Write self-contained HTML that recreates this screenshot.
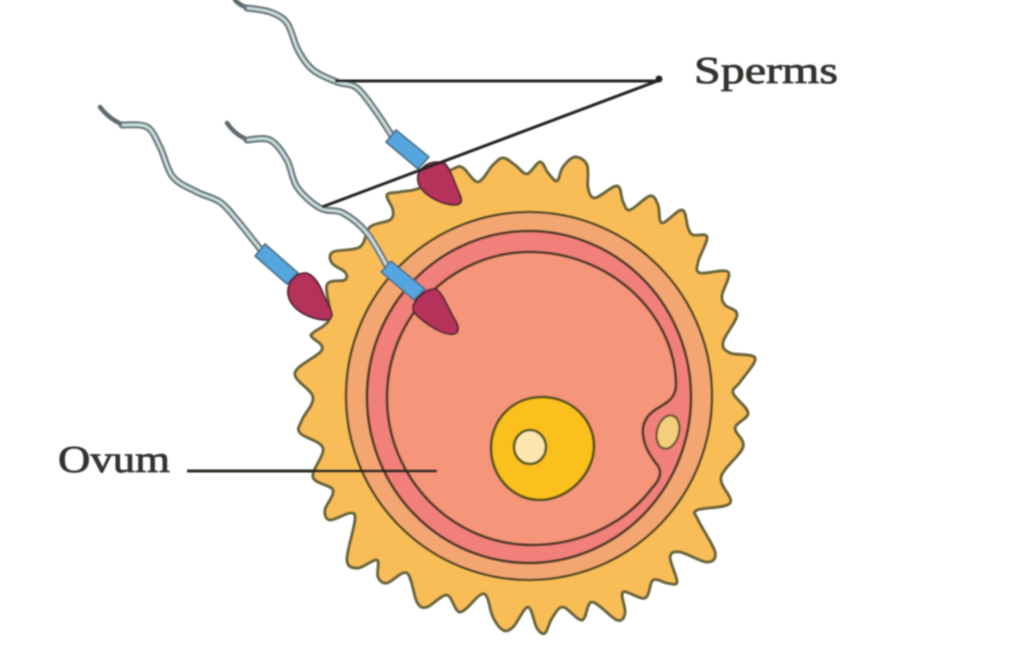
<!DOCTYPE html>
<html lang="en">
<head>
<meta charset="utf-8">
<title>Sperms and ovum diagram</title>
<style>
html,body{margin:0;padding:0;background:#fff;width:1024px;height:648px;overflow:hidden}
svg{display:block}
text{font-family:"Liberation Serif",serif;fill:#33332f;stroke:#33332f;stroke-width:.8px}
</style>
</head>
<body>
<svg width="1024" height="648" viewBox="0 0 1024 648">
<defs><filter id="soft" x="-5%" y="-5%" width="110%" height="110%"><feGaussianBlur stdDeviation="0.9"/></filter></defs>
<g filter="url(#soft)">
  <g>
    <path id="crown" fill="#f9bd58" stroke="#66633a" stroke-width="3" stroke-linejoin="round" d=""/>
    <ellipse cx="529" cy="396" rx="183" ry="184" fill="#f4a672" stroke="#4f4a24" stroke-width="2.6"/>
    <ellipse cx="529" cy="397" rx="162" ry="166" fill="#f2807a" stroke="#4f3a28" stroke-width="2.8"/>
    <path fill="#f5957a" stroke="#4f3a28" stroke-width="2.8" d="M387 398 C387 316 452 252 530 252 C610 252 675 314 676 384 C676 398 668 402 658 408 C646 415 642 424 643 434 C644 448 652 458 658 466 C662 472 660 480 652 488 C625 524 580 545 532 545 C452 545 387 478 387 398 Z"/>
    <path fill="#fbc01f" stroke="#55521c" stroke-width="2.8" d="M491 448 C491 420 512 397 542 397 C572 397 594 420 594 446 C594 474 568 500 540 500 C512 500 491 476 491 448 Z"/>
    <ellipse cx="530" cy="447" rx="16" ry="17" fill="#fde6b0" stroke="#605c28" stroke-width="2.8"/>
    <ellipse cx="668" cy="432" rx="11" ry="17" transform="rotate(15 668 432)" fill="#f3cf7c" stroke="#6d5a30" stroke-width="2.4"/>
  </g>

  <g>
    <path id="tail-top-tip" fill="none" stroke="#5f6a6e" stroke-width="4.5" stroke-linecap="round" d=""/>
    <path id="tail-top" fill="none" stroke="#6a767a" stroke-width="7" stroke-linecap="round" d=""/>
    <path id="core-top" fill="none" stroke="#cbe0e0" stroke-width="2.6" d=""/>
    <path fill="#55a5de" stroke="#4a6a80" stroke-width="1.6" stroke-linejoin="round" d="M386 142 L396 130 L429 157 L418 169 Z"/>
    <path fill="#b5325a" stroke="#4a2030" stroke-width="1.8" d="M418 175 C422 165 432 160 444 163 C450 168 454 180 458 190 C462 198 464 204 456 205 C448 206 432 200 424 192 C419 187 417 182 418 175 Z"/>
  </g>

  <g>
    <path id="tail-left-tip" fill="none" stroke="#5f6a6e" stroke-width="4.5" stroke-linecap="round" d=""/>
    <path id="tail-left" fill="none" stroke="#6a767a" stroke-width="7" stroke-linecap="round" d=""/>
    <path id="core-left" fill="none" stroke="#cbe0e0" stroke-width="2.6" d=""/>
    <path fill="#55a5de" stroke="#4a6a80" stroke-width="1.6" stroke-linejoin="round" d="M255 256 L265 244 L298 273 L287 284 Z"/>
    <path fill="#b5325a" stroke="#4a2030" stroke-width="1.8" d="M288 290 C289 280 296 273 306 273 C314 275 320 285 324 296 C328 304 333 312 332 316 C330 322 322 320 314 318 C300 314 287 304 288 290 Z"/>
  </g>

  <g>
    <path id="tail-middle-tip" fill="none" stroke="#5f6a6e" stroke-width="4.5" stroke-linecap="round" d=""/>
    <path id="tail-middle" fill="none" stroke="#6a767a" stroke-width="7" stroke-linecap="round" d=""/>
    <path id="core-middle" fill="none" stroke="#cbe0e0" stroke-width="2.6" d=""/>
    <path fill="#55a5de" stroke="#4a6a80" stroke-width="1.6" stroke-linejoin="round" d="M381 272 L391 261 L425 289 L414 300 Z"/>
    <path fill="#b5325a" stroke="#4a2030" stroke-width="1.8" d="M413 306 C416 298 426 288 436 289 C443 293 448 308 454 318 C458 324 461 332 454 334 C446 336 432 328 422 320 C416 315 412 312 413 306 Z"/>
  </g>

  <line x1="335" y1="81" x2="660" y2="81" stroke="#222" stroke-width="3"/>
  <line x1="322" y1="207" x2="660" y2="80" stroke="#222" stroke-width="3"/>
  <circle cx="659" cy="79" r="3.5" fill="#222"/>
  <line x1="187" y1="471" x2="437" y2="471" stroke="#2c2c24" stroke-width="3"/>
  <text x="694" y="83" font-size="38" textLength="144" lengthAdjust="spacingAndGlyphs">Sperms</text>
  <text x="58" y="472" font-size="38" textLength="112" lengthAdjust="spacingAndGlyphs">Ovum</text>
</g>
</svg>
<script>
var crownOutline = [[420,188],[453,169],[463,168],[478,182],[493,165],[503,158],[515,165],[527,174],[540,162],[548,173],[557,181],[563,167],[575,157],[587,165],[588,188],[595,198],[617,186],[623,202],[630,210],[650,196],[658,205],[662,223],[682,210],[688,228],[693,235],[707,237],[698,262],[700,273],[728,272],[722,295],[725,305],[737,315],[723,342],[730,353],[755,358],[740,382],[733,393],[748,413],[735,428],[743,447],[721,477],[730,503],[697,510],[698,520],[715,552],[707,562],[680,552],[670,557],[677,582],[667,583],[653,580],[645,598],[623,592],[625,613],[617,620],[592,602],[582,620],[563,607],[552,618],[545,633],[537,628],[528,607],[513,627],[503,630],[493,617],[487,597],[480,595],[460,612],[447,595],[427,607],[417,602],[407,573],[387,583],[378,577],[377,560],[358,568],[347,560],[355,520],[350,513],[330,520],[325,510],[333,490],[313,477],[323,448],[300,433],[302,420],[313,397],[295,373],[322,350],[312,337],[313,333],[330,318],[327,285],[345,280],[345,272],[332,263],[333,252],[360,247],[370,227],[390,220],[393,210],[387,195],[400,192]];
var tailTop = [[247,8],[270,12],[287,23],[298,50],[313,70],[337,82],[357,88],[377,113],[392,136]];
var tailLeft = [[122,125],[147,127],[160,147],[173,177],[197,192],[220,202],[237,220],[261,250]];
var tailMiddle = [[247,140],[270,140],[287,160],[297,187],[320,208],[343,213],[367,233],[387,266]];
function smoothPath(pts, closed) {
  var n = pts.length, d = 'M' + pts[0][0] + ' ' + pts[0][1];
  var last = closed ? n : n - 1;
  function at(i) { return closed ? pts[(i + n) % n] : pts[Math.max(0, Math.min(n - 1, i))]; }
  for (var i = 0; i < last; i++) {
    var p0 = at(i - 1), p1 = at(i), p2 = at(i + 1), p3 = at(i + 2);
    d += ' C' + (p1[0] + (p2[0] - p0[0]) / 6).toFixed(1) + ' ' + (p1[1] + (p2[1] - p0[1]) / 6).toFixed(1) +
         ' ' + (p2[0] - (p3[0] - p1[0]) / 6).toFixed(1) + ' ' + (p2[1] - (p3[1] - p1[1]) / 6).toFixed(1) +
         ' ' + p2[0] + ' ' + p2[1];
  }
  return d + (closed ? ' Z' : '');
}
document.getElementById('crown').setAttribute('d', smoothPath(crownOutline, true));
document.getElementById('tail-top').setAttribute('d', smoothPath(tailTop, false));
document.getElementById('core-top').setAttribute('d', smoothPath(tailTop, false));
document.getElementById('tail-left').setAttribute('d', smoothPath(tailLeft, false));
document.getElementById('core-left').setAttribute('d', smoothPath(tailLeft, false));
document.getElementById('tail-middle').setAttribute('d', smoothPath(tailMiddle, false));
document.getElementById('core-middle').setAttribute('d', smoothPath(tailMiddle, false));
document.getElementById('tail-top-tip').setAttribute('d', 'M235 0 Q240 6 249 8');
document.getElementById('tail-left-tip').setAttribute('d', 'M100 107 Q110 120 124 125');
document.getElementById('tail-middle-tip').setAttribute('d', 'M227 123 Q236 136 249 140');
</script>
</body>
</html>
